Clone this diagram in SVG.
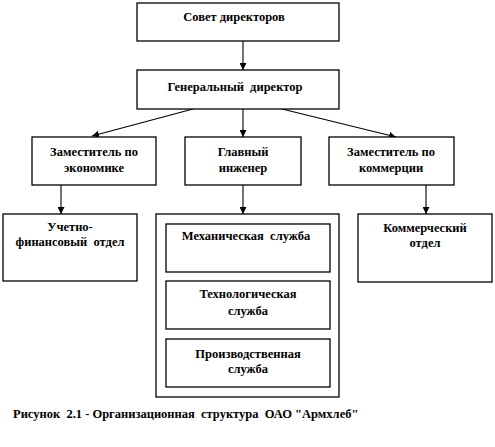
<svg xmlns="http://www.w3.org/2000/svg" width="495" height="447" viewBox="0 0 495 447">
<style>
.b{fill:#fff;stroke:#000;stroke-width:1.3}
.t{font-family:'Liberation Serif','Times New Roman','DejaVu Serif',serif;font-weight:700;font-size:12.5px;fill:#000;text-anchor:middle;white-space:pre}
.c line{stroke:#000;stroke-width:1.1}
</style>
<defs>
<marker id="ah" viewBox="0 0 10 10" refX="10" refY="5" markerWidth="7" markerHeight="7" markerUnits="userSpaceOnUse" orient="auto">
<path d="M0,0L10,5L0,10z" fill="#000"/>
</marker>
</defs>
<rect width="495" height="447" fill="#fff"/>
<g class="c">
<line x1="243" y1="41" x2="243" y2="70" marker-end="url(#ah)"/>
<line x1="193" y1="109" x2="92" y2="136" marker-end="url(#ah)"/>
<line x1="243" y1="109" x2="243" y2="137" marker-end="url(#ah)"/>
<line x1="282" y1="109" x2="396" y2="137" marker-end="url(#ah)"/>
<line x1="61" y1="185" x2="61" y2="214" marker-end="url(#ah)"/>
<line x1="243" y1="185" x2="243" y2="214" marker-end="url(#ah)"/>
<line x1="426" y1="185" x2="426" y2="214" marker-end="url(#ah)"/>
</g>
<g id="sovet">
<rect class="b" x="137" y="3" width="202" height="38"/>
<text class="t" x="234" y="21" font-family="Liberation Serif">Совет директоров</text>
</g>
<g id="gendir">
<rect class="b" x="137" y="70" width="202" height="39"/>
<text class="t" x="235" y="91">Генеральный  директор</text>
</g>
<g id="zam-econ">
<rect class="b" x="32" y="137" width="124" height="48"/>
<text class="t" x="94" y="156">Заместитель по</text>
<text class="t" x="94" y="172">экономике</text>
</g>
<g id="glav-ing">
<rect class="b" x="185" y="137" width="116" height="48"/>
<text class="t" x="243" y="156">Главный</text>
<text class="t" x="243" y="172">инженер</text>
</g>
<g id="zam-komm">
<rect class="b" x="329" y="137" width="125" height="48"/>
<text class="t" x="391" y="156">Заместитель по</text>
<text class="t" x="391" y="172">коммерции</text>
</g>
<g id="uchet">
<rect class="b" x="3" y="214" width="134" height="67"/>
<text class="t" x="70" y="231">Учетно-</text>
<text class="t" x="70" y="246">финансовый  отдел</text>
</g>
<g id="sluzhby">
<rect class="b" x="156" y="214" width="183" height="183"/>
</g>
<g id="mech">
<rect class="b" x="166" y="224" width="164" height="48"/>
<text class="t" x="246" y="240">Механическая  служба</text>
</g>
<g id="tech">
<rect class="b" x="166" y="281" width="164" height="48"/>
<text class="t" x="248" y="298">Технологическая</text>
<text class="t" x="248" y="315">служба</text>
</g>
<g id="prod">
<rect class="b" x="166" y="339" width="164" height="48"/>
<text class="t" x="248" y="358">Производственная</text>
<text class="t" x="248" y="373">служба</text>
</g>
<g id="komm-otdel">
<rect class="b" x="358" y="214" width="134" height="68"/>
<text class="t" x="425" y="232">Коммерческий</text>
<text class="t" x="425" y="247">отдел</text>
</g>
<text class="t" x="13" y="418" style="text-anchor:start">Рисунок  2.1 - Организационная  структура  ОАО "Армхлеб"</text>
</svg>
